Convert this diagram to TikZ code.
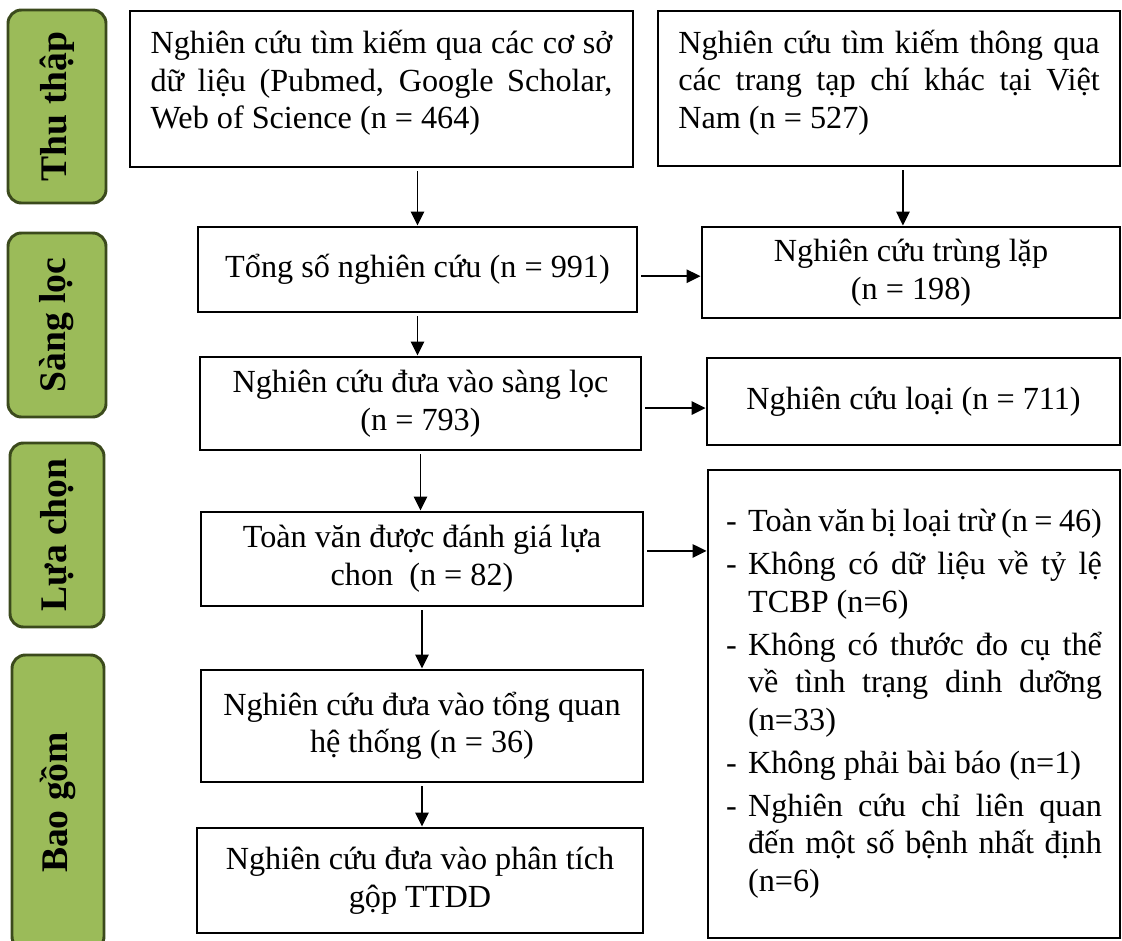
\documentclass[tikz,border=0pt]{standalone}
\usepackage{fontspec}
\setmainfont{Liberation Serif}
\usepackage{tikz}
\usetikzlibrary{arrows.meta}
\definecolor{stagegreen}{HTML}{9BBB59}
\definecolor{stageline}{HTML}{3B4A1C}
\newcommand{\pxu}{0.3725pt}
\newlength{\reasonwd}
\setlength{\reasonwd}{131.8pt}
\newcommand{\jline}[1]{\makebox[\reasonwd][s]{\spaceskip=3pt plus 4pt minus 1.2pt\relax #1}}

\begin{document}
\begin{tikzpicture}[->,>={Triangle[length=5.2pt,width=5pt]},shorten <=1pt,line width=0.55pt,
		x=\pxu,y=-\pxu,
		flow node/.style={draw,line width=1.1pt,font=\fontsize{12}{14}\selectfont,inner sep=2pt},
		stage node/.style={draw=stageline,fill=stagegreen,line width=1.1pt,rounded corners=5pt,
			rotate=90,font=\fontsize{14}{16}\selectfont\bfseries}]
	
	\useasboundingbox (0,0) rectangle (1122,940);
	
	% stages
	\node[stage node,minimum width=193*\pxu,minimum height=98*\pxu] (collect) at (57,106.5) {Thu thập};
	\node[stage node,minimum width=184*\pxu,minimum height=98*\pxu] (screening) at (57,325) {Sàng lọc};
	\node[stage node,minimum width=184*\pxu,minimum height=94*\pxu] (selection) at (57,535) {Lựa chọn};
	\node[stage node,minimum width=295*\pxu,minimum height=92*\pxu] (included) at (58,802.5) {Bao gồm};
	
	% main column
	\node[flow node,text width=172pt,align=justify,text depth=35pt,minimum width=503*\pxu,minimum height=156*\pxu] (db) at (381.5,89)
	{Nghiên cứu tìm kiếm qua các cơ sở\linebreak dữ liệu (Pubmed, Google Scholar,\linebreak Web of Science (n = 464)};
	\node[flow node,text width=157pt,align=justify,text depth=35pt,minimum width=462*\pxu,minimum height=155*\pxu] (journals) at (889,88.5)
	{Nghiên cứu tìm kiếm thông qua\linebreak các trang tạp chí khác tại Việt\linebreak Nam (n = 527)};
	\node[flow node,minimum width=439*\pxu,minimum height=85*\pxu] (total) at (417.5,269.5) {Tổng số nghiên cứu (n = 991)};
	\node[flow node,align=center,minimum width=418*\pxu,minimum height=91*\pxu] (dup) at (911,272.5) {Nghiên cứu trùng lặp\\(n = 198)};
	\node[flow node,align=center,minimum width=441*\pxu,minimum height=93*\pxu] (screen) at (420.5,403.5) {Nghiên cứu đưa vào sàng lọc\\(n = 793)};
	\node[flow node,minimum width=413*\pxu,minimum height=87*\pxu] (excl) at (913.5,401.5) {Nghiên cứu loại (n = 711)};
	\node[flow node,align=center,minimum width=442*\pxu,minimum height=94*\pxu] (full) at (422,559) {Toàn văn được đánh giá lựa\\chon\ \ (n = 82)};
	\node[flow node,minimum width=412*\pxu,minimum height=468*\pxu] (reasons) at (914,704)
	{\begin{tabular}{@{}l@{\hspace{4.2pt}}l@{}}
			- & \jline{Toàn văn bị loại trừ (n = 46)}\\[2pt]
			- & \jline{Không có dữ liệu về tỷ lệ}\\
			  & TCBP (n=6)\\[2pt]
			- & \jline{Không có thước đo cụ thể}\\
			  & \jline{về tình trạng dinh dưỡng}\\
			  & (n=33)\\[2pt]
			- & Không phải bài báo (n=1)\\[2pt]
			- & \jline{Nghiên cứu chỉ liên quan}\\
			  & \jline{đến một số bệnh nhất định}\\
			  & (n=6)
	\end{tabular}};
	\node[flow node,align=center,minimum width=442*\pxu,minimum height=112*\pxu] (review) at (422,726) {Nghiên cứu đưa vào tổng quan\\hệ thống (n = 36)};
	\node[flow node,align=center,minimum width=446*\pxu,minimum height=105*\pxu] (meta) at (420,880.5) {Nghiên cứu đưa vào phân tích\\gộp TTDD};
	
	% arrows
	\draw (total.north |- db.south) -- (total.north);
	\draw ([xshift=-3pt]dup.north |- journals.south) -- ([xshift=-3pt]dup.north);
	\draw ([yshift=-2.5pt]total.east) -- ([yshift=-2.5pt]total.east -| dup.west);
	\draw (total.south) -- (total.south |- screen.north);
	\draw ([yshift=-1.7pt]screen.east) -- ([yshift=-1.7pt]screen.east -| excl.west);
	\draw (screen.south) -- (screen.south |- full.north);
	\draw ([yshift=3pt]full.east) -- ([yshift=3pt]full.east -| reasons.west);
	\draw (full.south) -- (full.south |- review.north);
	\draw (review.south) -- (review.south |- meta.north);
	
\end{tikzpicture}
\end{document}
